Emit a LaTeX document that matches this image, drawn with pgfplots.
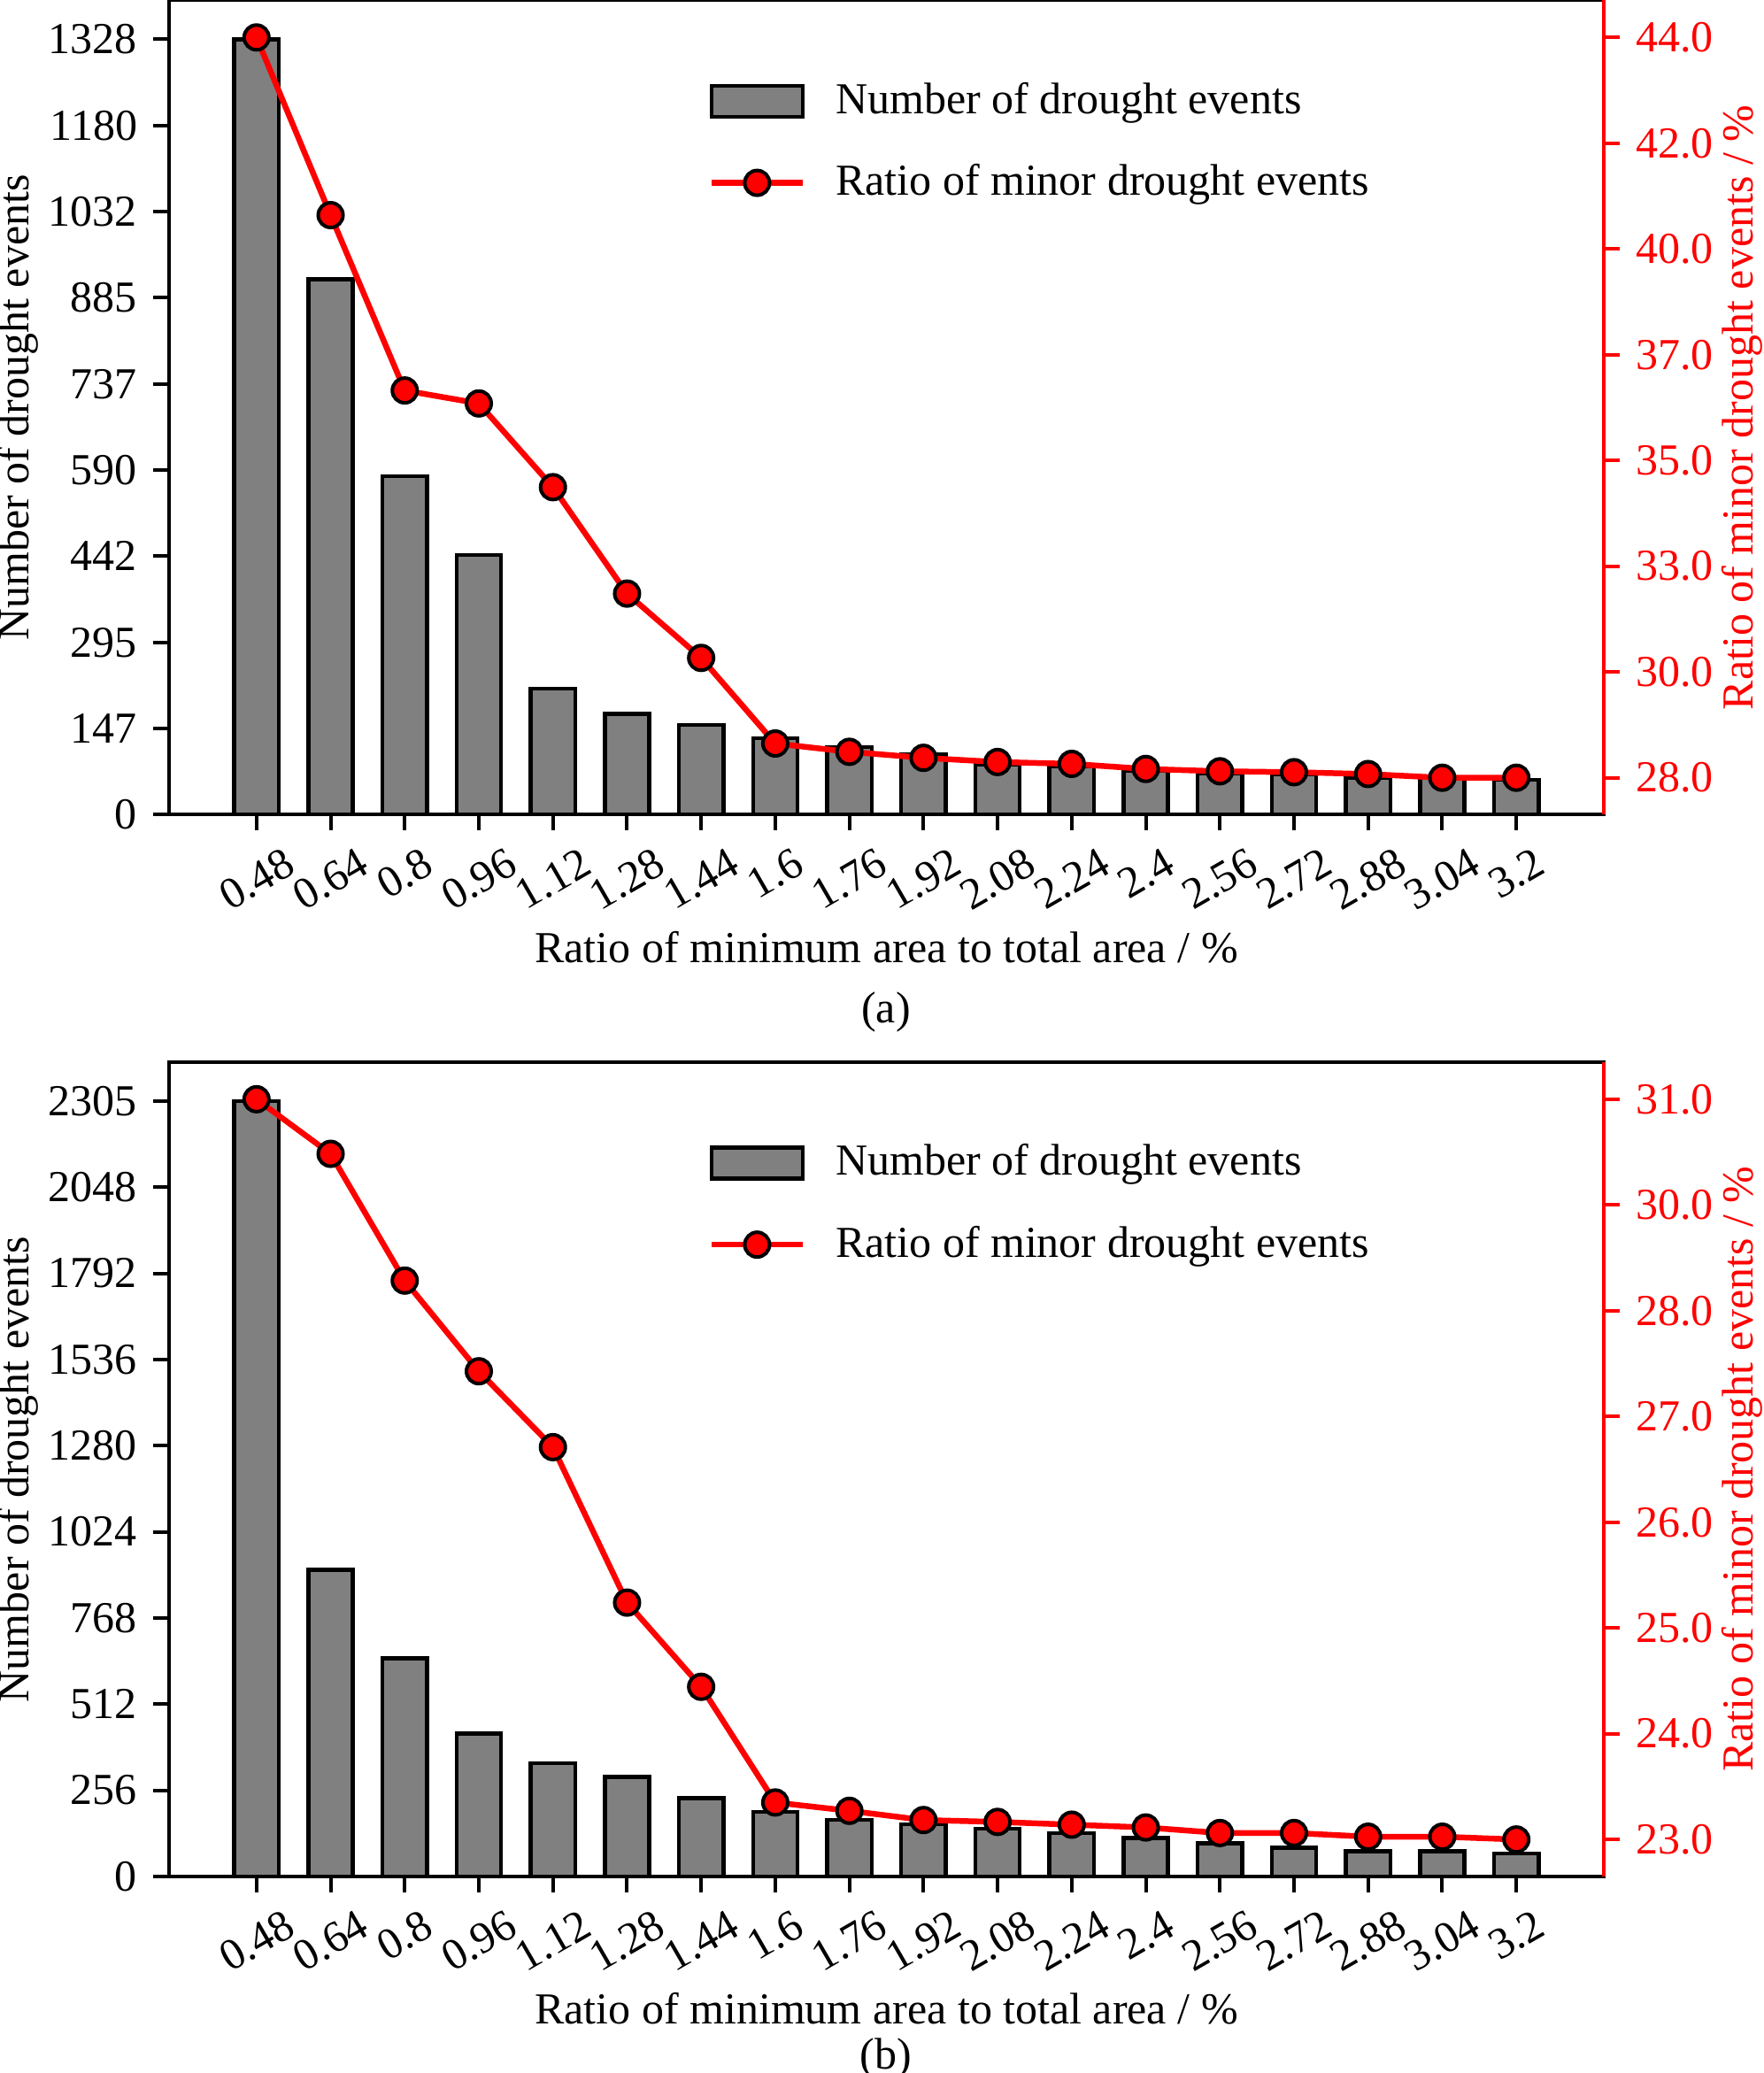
\documentclass[border=0pt]{standalone}
\usepackage{graphicx}
\usepackage{fontspec}
\setmainfont{Liberation Serif}
\usepackage{pgfplots}
\usepackage{pgfplotstable}
\pgfplotsset{compat=1.18}
\definecolor{barg}{HTML}{808080}
\definecolor{mred}{HTML}{FF0000}

\pgfplotstableread{
x n r
0 1328 44.00
1 917 40.16
2 580 36.37
3 445 36.09
4 216 34.28
5 173 31.98
6 154 30.59
7 131 28.74
8 116 28.56
9 104 28.43
10 86 28.34
11 83 28.30
12 75 28.19
13 71 28.14
14 69 28.12
15 63 28.08
16 63 28.00
17 60 28.00
}\dataA

\pgfplotstableread{
x n r
0 2305 31.00
1 911 30.41
2 649 29.04
3 425 28.06
4 337 27.24
5 296 25.56
6 233 24.65
7 192 23.40
8 169 23.31
9 155 23.21
10 142 23.19
11 129 23.16
12 115 23.13
13 98 23.07
14 85 23.07
15 75 23.03
16 75 23.03
17 69 23.00
}\dataB

\pgfplotsset{
  common/.style={
    scale only axis, width=324.2pt, height=184pt,
    xmin=-1.18, xmax=18.18,
    xtick={0,...,17},
    tick align=outside,
    major tick length=3.5pt,
    axis line style={line width=0.8pt},
    every tick/.style={line width=0.8pt},
    /pgf/number format/assume math mode=true,
    anchor=south west,
  },
  leftax/.style={common,
    ymin=0,
    xtick pos=bottom, ytick pos=left,
    xticklabels={\rotatebox{30}{0.48},\rotatebox{30}{0.64},\rotatebox{30}{0.8},\rotatebox{30}{0.96},\rotatebox{30}{1.12},\rotatebox{30}{1.28},\rotatebox{30}{1.44},\rotatebox{30}{1.6},\rotatebox{30}{1.76},\rotatebox{30}{1.92},\rotatebox{30}{2.08},\rotatebox{30}{2.24},\rotatebox{30}{2.4},\rotatebox{30}{2.56},\rotatebox{30}{2.72},\rotatebox{30}{2.88},\rotatebox{30}{3.04},\rotatebox{30}{3.2}},
    xticklabel style={anchor=north, inner sep=0pt, yshift=-3.5pt},
    yticklabel style={anchor=east, inner sep=0pt, xshift=-3.5pt},
    xlabel={Ratio of minimum area to total area / \%},
    xlabel style={at={(axis description cs:0.5,0)}, anchor=center, yshift=-29.9pt},
    ylabel={Number of drought events},
    ylabel style={at={(axis description cs:-0.1055,0.5)}, anchor=center},
  },
  rightax/.style={common,
    axis x line=none,
    axis y line*=right,
    y axis line style={color=mred, line width=0.8pt},
    y tick style={color=mred, line width=0.8pt},
    yticklabel style={anchor=west, inner sep=0pt, xshift=3.5pt, color=mred},
    ylabel={Ratio of minor drought events / \%},
    ylabel style={at={(axis description cs:1.0962,0.5)}, anchor=center, color=mred},
    legend style={draw=none, fill=none, at={(axis description cs:0.3761,0.8994)},
      anchor=north west, inner sep=0pt, outer sep=0pt, row sep=9.9pt, column sep=6.8pt,
      nodes={inner sep=0pt}},
    legend cell align=left,
  },
  barsty/.style={ybar, bar width=0.6, fill=barg, draw=black, line width=0.9pt},
  linesty/.style={color=mred, line width=1.3pt, mark=*, mark size=2.8pt,
    mark options={fill=mred, draw=black, line width=0.8pt, solid},
    legend image code/.code={\draw[mark repeat=2,mark phase=2,##1] plot coordinates {(0pt,0pt) (10.3pt,0pt) (20.6pt,0pt)};}},
  barleg/.style={legend image code/.code={\draw[fill=barg, draw=black, line width=0.9pt] (0pt,-3.5pt) rectangle (20.6pt,3.5pt);}},
}

\begin{document}
\begin{tikzpicture}
\useasboundingbox (0,0) rectangle (398.6pt,468.4pt);

% ---------- panel (a) ----------
\begin{axis}[leftax, at={(38.2pt,284.3pt)}, ymax=1394.4,
  ytick={0,147.5556,295.1111,442.6667,590.2222,737.7778,885.3333,1032.8889,1180.4444,1328},
  yticklabels={0,147,295,442,590,737,885,1032,1180,1328}]
\addplot[barsty] table[x=x,y=n]{\dataA};
\end{axis}
\begin{axis}[rightax, at={(38.2pt,284.3pt)}, ymin=27.2, ymax=44.8,
  ytick={28,30.2857,32.5714,34.8571,37.1429,39.4286,41.7143,44},
  yticklabels={28.0,30.0,33.0,35.0,37.0,40.0,42.0,44.0}]
\addlegendimage{barleg}
\addlegendentry{Number of drought events}
\addplot[linesty] table[x=x,y=r]{\dataA};
\addlegendentry{Ratio of minor drought events}
\end{axis}
\node[anchor=center] at (200.2pt,239.8pt) {(a)};

% ---------- panel (b) ----------
\begin{axis}[leftax, at={(38.2pt,44.4pt)}, ymax=2420.25,
  ytick={0,256.1111,512.2222,768.3333,1024.4444,1280.5556,1536.6667,1792.7778,2048.8889,2305},
  yticklabels={0,256,512,768,1024,1280,1536,1792,2048,2305}]
\addplot[barsty] table[x=x,y=n]{\dataB};
\end{axis}
\begin{axis}[rightax, at={(38.2pt,44.4pt)}, ymin=22.6, ymax=31.4,
  ytick={23,24.1429,25.2857,26.4286,27.5714,28.7143,29.8571,31},
  yticklabels={23.0,24.0,25.0,26.0,27.0,28.0,30.0,31.0}]
\addlegendimage{barleg}
\addlegendentry{Number of drought events}
\addplot[linesty] table[x=x,y=r]{\dataB};
\addlegendentry{Ratio of minor drought events}
\end{axis}
\node[anchor=center] at (200.2pt,3.4pt) {(b)};
\end{tikzpicture}
\end{document}
